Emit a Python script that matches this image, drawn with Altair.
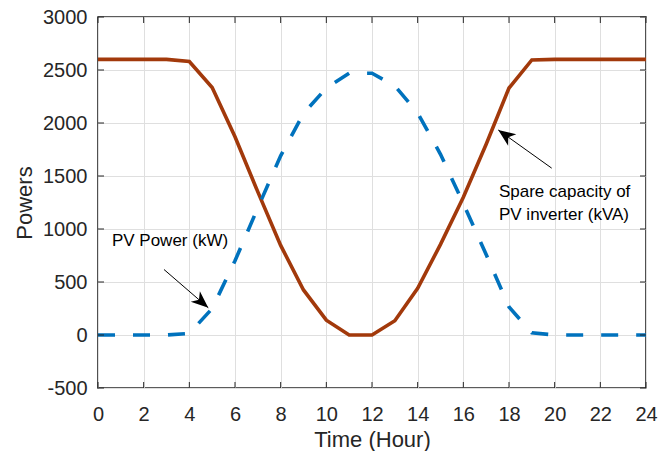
import altair as alt
import pandas as pd

hours = list(range(25))
spare_kva = [2600, 2600, 2600, 2600, 2580, 2335, 1870, 1350, 845, 425, 140, 0, 0,
             135, 440, 855, 1300, 1800, 2330, 2595, 2600, 2600, 2600, 2600, 2600]
pv_kw = [0, 0, 0, 0, 15, 250, 700, 1200, 1690, 2090, 2330, 2470, 2470,
         2350, 2095, 1705, 1240, 760, 265, 20, 0, 0, 0, 0, 0]

x_ticks = [0, 2, 4, 6, 8, 10, 12, 14, 16, 18, 20, 22, 24]
y_ticks = [-500, 0, 500, 1000, 1500, 2000, 2500, 3000]

# annotations (data coordinates)
ann_text = ["PV Power (kW)", "Spare capacity of", "PV inverter (kVA)"]
ann_x = [0.61, 17.56, 17.56]
ann_y = [883, 1349, 1128]

arrow_tail_x = [2.89, 19.87]
arrow_tail_y = [618, 1574]
arrow_tip_x = [4.83, 17.53]
arrow_tip_y = [257, 1934]
arrow_angle = [130.9, 305.7]

FONT = "Liberation Sans"
W, H = 548, 371

xs = alt.Scale(domain=[0, 24], nice=False, zero=False)
ys = alt.Scale(domain=[-500, 3000], nice=False, zero=False)

df_spare = pd.DataFrame({"h": hours, "v": spare_kva})
df_pv = pd.DataFrame({"h": hours, "v": pv_kw})
df_ann = pd.DataFrame({"t": ann_text, "x": ann_x, "y": ann_y})
df_arr = pd.DataFrame({"x": arrow_tail_x, "y": arrow_tail_y,
                       "x2": arrow_tip_x, "y2": arrow_tip_y, "a": arrow_angle})
df_xt = pd.DataFrame({"t": x_ticks})
df_yt = pd.DataFrame({"t": y_ticks})

x_axis = alt.Axis(values=x_ticks, tickSize=0, labelPadding=16, domain=False,
                  grid=True, gridColor="#DFDFDF", gridWidth=1,
                  labelFlush=False, labelOverlap=False,
                  labelExpr="'' + datum.value",
                  title="Time (Hour)", titleY=58, titleBaseline="alphabetic")
y_axis = alt.Axis(values=y_ticks, tickSize=0, labelPadding=11, domain=False,
                  grid=True, gridColor="#DFDFDF", gridWidth=1,
                  labelOverlap=False,
                  labelExpr="'' + datum.value",
                  title="Powers", titleX=-67, titleBaseline="alphabetic")

base_x = alt.X("h:Q", scale=xs, axis=x_axis)
base_y = alt.Y("v:Q", scale=ys, axis=y_axis)

spare_line = alt.Chart(df_spare).mark_line(color="#A2390B", strokeWidth=3.6).encode(
    x=base_x, y=base_y)
pv_line = alt.Chart(df_pv).mark_line(color="#0072BD", strokeWidth=3.6,
                                     strokeDash=[17, 18]).encode(
    x=alt.X("h:Q", scale=xs), y=alt.Y("v:Q", scale=ys))

texts = alt.Chart(df_ann).mark_text(align="left", baseline="middle", font=FONT,
                                    fontSize=17, color="#000000").encode(
    x=alt.X("x:Q", scale=xs), y=alt.Y("y:Q", scale=ys), text="t:N")

arrow_lines = alt.Chart(df_arr).mark_rule(color="#000000", strokeWidth=1).encode(
    x=alt.X("x:Q", scale=xs), y=alt.Y("y:Q", scale=ys), x2="x2:Q", y2="y2:Q")
arrow_heads = alt.Chart(df_arr).mark_point(
    shape="M0,0 L0.65,1.6 L0,1.15 L-0.65,1.6 Z", size=460, filled=True,
    color="#000000", opacity=1, strokeWidth=0).encode(
    x=alt.X("x2:Q", scale=xs), y=alt.Y("y2:Q", scale=ys),
    angle=alt.Angle("a:Q", scale=None))

tick_col = "#262626"
tb = alt.Chart(df_xt).mark_rule(color=tick_col, strokeWidth=1).encode(
    x=alt.X("t:Q", scale=xs), y=alt.value(H), y2=alt.value(H - 6))
tt = alt.Chart(df_xt).mark_rule(color=tick_col, strokeWidth=1).encode(
    x=alt.X("t:Q", scale=xs), y=alt.value(0), y2=alt.value(6))
tl = alt.Chart(df_yt).mark_rule(color=tick_col, strokeWidth=1).encode(
    y=alt.Y("t:Q", scale=ys), x=alt.value(0), x2=alt.value(6))
tr = alt.Chart(df_yt).mark_rule(color=tick_col, strokeWidth=1).encode(
    y=alt.Y("t:Q", scale=ys), x=alt.value(W), x2=alt.value(W - 6))

chart = alt.layer(spare_line, pv_line, arrow_lines, arrow_heads, texts,
                  tb, tt, tl, tr).properties(
    width=W, height=H,
    autosize=alt.AutoSizeParams(type="none"),
    padding={"left": 90, "top": 9, "right": 17, "bottom": 63},
    background="white",
).configure_view(
    stroke="#262626", strokeWidth=1.6
).configure_axis(
    labelFont=FONT, labelFontSize=20, labelColor="#262626",
    titleFont=FONT, titleFontSize=22, titleColor="#262626", titleFontWeight="normal",
)

chart.save("out.html", embed_options={"renderer": "svg", "actions": False})
